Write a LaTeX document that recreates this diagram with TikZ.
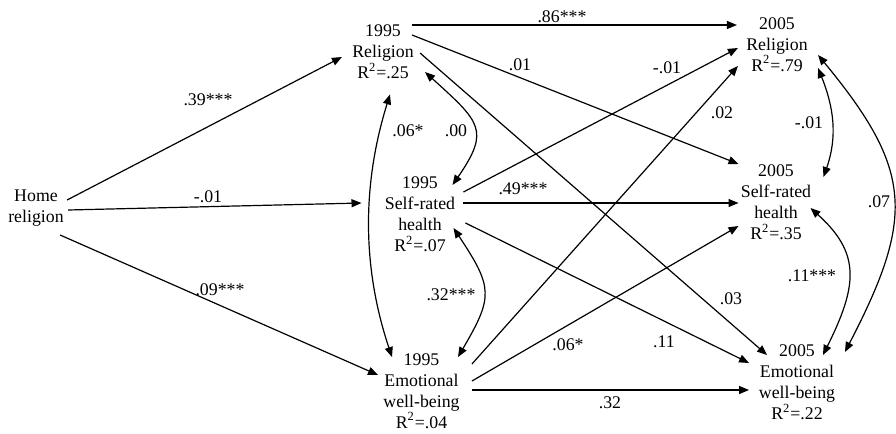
\documentclass[tikz,border=0pt]{standalone}
\usepackage{fontspec}
\setmainfont{Liberation Serif}
\usetikzlibrary{arrows.meta}

\tikzset{
    var/.style={align=center, inner sep=0pt, font=\fontsize{8.9}{10.5}\selectfont},
    coef/.style={inner sep=0pt, font=\fontsize{8.9}{10.5}\selectfont},
    effect/.style={line width=0.6pt, -{Triangle[length=5pt,width=4pt]}},
    covar/.style={line width=0.6pt, {Triangle[length=5pt,width=4pt]}-{Triangle[length=5pt,width=4pt]}},
}

\begin{document}
\begin{tikzpicture}[x=0.5pt,y=-0.5pt]
\useasboundingbox (0,0) rectangle (896,434);
% variables
\node[var] (home) at (36,208) {Home\\religion};
\node[var] (rel95) at (383,52) {1995\\Religion\\R\textsuperscript{2}=.25};
\node[var] (srh95) at (420,214.5) {1995\\Self-rated\\health\\R\textsuperscript{2}=.07};
\node[var] (ewb95) at (421.5,391) {1995\\Emotional\\well-being\\R\textsuperscript{2}=.04};
\node[var] (rel05) at (777,44.5) {2005\\Religion\\R\textsuperscript{2}=.79};
\node[var] (srh05) at (776,202.5) {2005\\Self-rated\\health\\R\textsuperscript{2}=.35};
\node[var] (ewb05) at (797,382.5) {2005\\Emotional\\well-being\\R\textsuperscript{2}=.22};
% home religion paths
\draw[effect] ([shift={(3,-8)}]home.east) -- ([shift={(-10,5)}]rel95.west);
\draw[effect] ([shift={(4,2)}]home.east) -- ([shift={(-23,-11.5)}]srh95.west);
\draw[effect] ([shift={(-4,27)}]home.east) -- ([shift={(-5,-16)}]ewb95.west);
% 1995 -> 2005 paths
\draw[effect] ([shift={(-2,-27)}]rel95.east) -- ([shift={(-9,-19.5)}]rel05.west);
\draw[effect] ([shift={(-2,-17)}]rel95.east) -- ([shift={(-2,-38.5)}]srh05.west);
\draw[effect] ([shift={(6,1)}]rel95.east) -- ([shift={(8.5,-27.5)}]ewb05.west);
\draw[effect] ([shift={(8,-22.5)}]srh95.east) -- ([shift={(-8,3.5)}]rel05.west);
\draw[effect] ([shift={(8,-11.5)}]srh95.east) -- ([shift={(-2,0.5)}]srh05.west);
\draw[effect] ([shift={(10,8.5)}]srh95.east) -- ([shift={(-9.5,-19.5)}]ewb05.west);
\draw[effect] ([shift={(12,-27)}]ewb95.east) -- ([shift={(-8,21.5)}]rel05.west);
\draw[effect] ([shift={(12,-10)}]ewb95.east) -- ([shift={(-2,23.5)}]srh05.west);
\draw[effect] ([shift={(12,-1)}]ewb95.east) -- ([shift={(-9.5,7.5)}]ewb05.west);
% covariances
\draw[covar] ([shift={(11,20)}]rel95.east) .. controls +(55,50) and +(38,-55) .. ([shift={(-3,-29.5)}]srh95.east);
\draw[covar] ([shift={(7,15)}]rel95.south) .. controls +(-28,90) and +(-30,-90) .. ([shift={(-29.5,4)}]ewb95.north);
\draw[covar] ([shift={(-2,13.5)}]srh95.east) .. controls +(40,60) and +(35,-60) .. ([shift={(36.5,4)}]ewb95.north);
\draw[covar] ([shift={(10,23.5)}]rel05.east) .. controls +(16,40) and +(14,-40) .. ([shift={(12,-25.5)}]srh05.east);
\draw[covar] ([shift={(-1,5.5)}]srh05.east) .. controls +(50,45) and +(35,-70) .. ([shift={(-12.5,-27.5)}]ewb05.east);
\draw[covar] ([shift={(10,10.5)}]rel05.east) .. controls +(95,115) and +(70,-135) .. ([shift={(9.5,-30.5)}]ewb05.east);
% coefficients
\node[coef] (b1) at (208,100) {.39***};
\node[coef] (b2) at (208,197) {-.01};
\node[coef] (b3) at (220,290) {.09***};
\node[coef] (b4) at (562,17) {.86***};
\node[coef] (b5) at (520,65) {.01};
\node[coef] (b6) at (667,68) {-.01};
\node[coef] (b7) at (722,113) {.02};
\node[coef] (b8) at (523,189) {.49***};
\node[coef] (b9) at (731,299) {.03};
\node[coef] (b10) at (568,345) {.06*};
\node[coef] (b11) at (664,342) {.11};
\node[coef] (b12) at (610,403) {.32};
\node[coef] (r1) at (456,131) {.00};
\node[coef] (r2) at (408,131) {.06*};
\node[coef] (r3) at (451,295) {.32***};
\node[coef] (r4) at (809,123) {-.01};
\node[coef] (r5) at (812,276) {.11***};
\node[coef] (r6) at (879,202) {.07};
\end{tikzpicture}
\end{document}
